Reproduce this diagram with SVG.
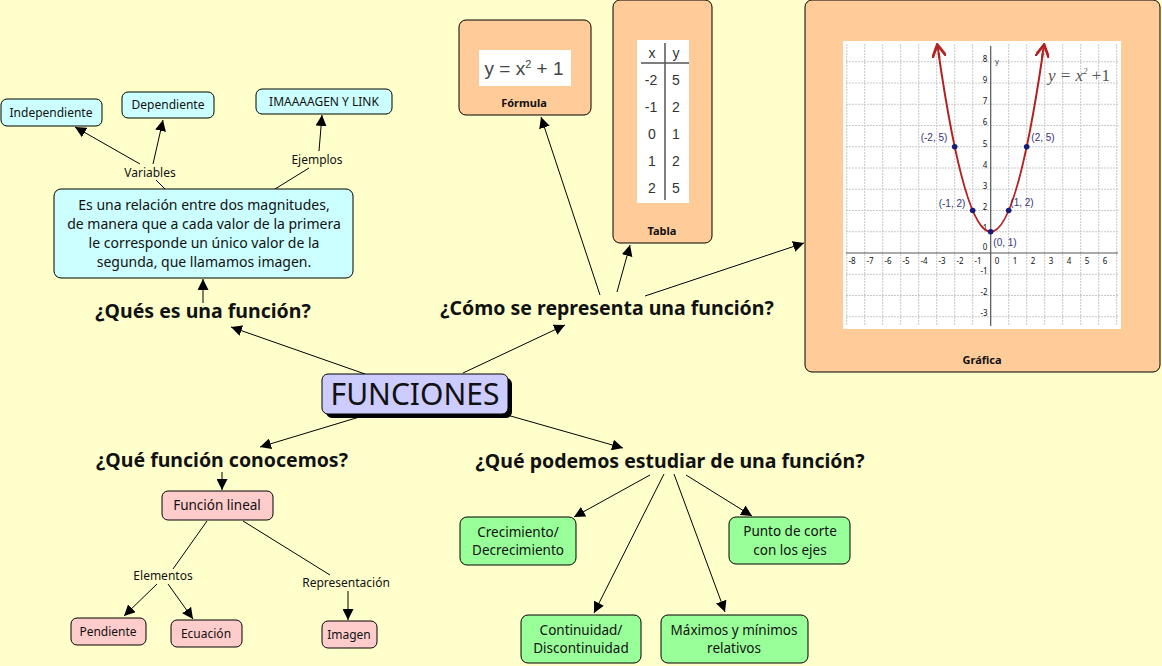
<svg xmlns="http://www.w3.org/2000/svg" width="1162" height="666" viewBox="0 0 1162 666">
<defs>
<marker id="ah" viewBox="0 0 10 10" refX="10" refY="5" markerWidth="11" markerHeight="11" markerUnits="userSpaceOnUse" orient="auto"><path d="M0,0 L10,5 L0,10 z" fill="#000"/></marker>
<marker id="rh" viewBox="0 0 10 10" refX="8" refY="5" markerWidth="14" markerHeight="14" markerUnits="userSpaceOnUse" orient="auto"><path d="M0,0 L9,5 L0,10" fill="none" stroke="#b22222" stroke-width="2"/></marker>
</defs>
<style>
text{font-family:"Noto Sans","Liberation Sans",sans-serif;fill:#111}
.n{stroke:#000;stroke-width:1}
.cy{fill:#ccffff}.or{fill:#ffcc99}.pk{fill:#ffcccc}.gr{fill:#99ff99}
.t{font-size:13.5px}
.d{font-size:14px}
.lb{font-size:12px}
.h{font-size:19.5px;font-weight:bold}
.c line,.c path{stroke:#000;stroke-width:1;fill:none}
.a{marker-end:url(#ah)}
.grid line{stroke:#c8c8c8;stroke-width:1;stroke-dasharray:2 1}
.ax{font-family:"Liberation Sans",sans-serif;font-size:8px;fill:#444}
.pt{font-family:"Liberation Sans",sans-serif;font-size:10px;fill:#33337a}
.tb{font-family:"Liberation Sans",sans-serif;font-size:14px;fill:#333}
</style>
<rect width="1162" height="666" fill="#ffffcc"/>

<g class="c" id="connectors">
<line x1="365" y1="374" x2="231" y2="327" class="a"/>
<line x1="463" y1="373" x2="565" y2="325" class="a"/>
<line x1="366" y1="415" x2="260" y2="447" class="a"/>
<line x1="500" y1="413" x2="623" y2="448" class="a"/>
<line x1="203" y1="303" x2="203" y2="279" class="a"/>
<line x1="165" y1="189" x2="156" y2="180"/>
<line x1="140" y1="164" x2="75" y2="127" class="a"/>
<line x1="153" y1="164" x2="163" y2="120" class="a"/>
<line x1="275" y1="189" x2="309" y2="168"/>
<line x1="319" y1="151" x2="322" y2="115" class="a"/>
<line x1="600" y1="295" x2="541" y2="117" class="a"/>
<line x1="617" y1="292" x2="630" y2="245" class="a"/>
<line x1="645" y1="296" x2="804" y2="243" class="a"/>
<line x1="222" y1="472" x2="222" y2="490" class="a"/>
<line x1="207" y1="521" x2="173" y2="569"/>
<line x1="157" y1="584" x2="124" y2="616" class="a"/>
<line x1="168" y1="584" x2="193" y2="619" class="a"/>
<line x1="243" y1="521" x2="330" y2="575"/>
<line x1="348" y1="591" x2="348" y2="620" class="a"/>
<line x1="650" y1="475" x2="574" y2="517" class="a"/>
<line x1="664" y1="474" x2="594" y2="613" class="a"/>
<line x1="674" y1="474" x2="725" y2="612" class="a"/>
<line x1="686" y1="475" x2="752" y2="516" class="a"/>
</g>

<g id="funciones">
<rect x="326" y="378" width="186" height="40" rx="6" fill="#000"/>
<rect x="322" y="374" width="186" height="40" rx="6" fill="#ccccff" class="n"/>
<text x="415" y="405" text-anchor="middle" style="font-size:30px">FUNCIONES</text>
</g>

<g id="q-que-es"><text x="203" y="318" text-anchor="middle" class="h">¿Qués es una función?</text></g>
<g id="q-como"><text x="607" y="315" text-anchor="middle" class="h">¿Cómo se representa una función?</text></g>
<g id="q-conocemos"><text x="222" y="467" text-anchor="middle" class="h">¿Qué función conocemos?</text></g>
<g id="q-estudiar"><text x="670" y="468" text-anchor="middle" class="h">¿Qué podemos estudiar de una función?</text></g>

<g id="definicion">
<rect x="54" y="189" width="299" height="89" rx="7" class="n cy"/>
<text x="204" y="210" text-anchor="middle" class="d">Es una relación entre dos magnitudes,</text>
<text x="204" y="229" text-anchor="middle" class="d">de manera que a cada valor de la primera</text>
<text x="204" y="248" text-anchor="middle" class="d">le corresponde un único valor de la</text>
<text x="204" y="267" text-anchor="middle" class="d">segunda, que llamamos imagen.</text>
</g>
<g id="lbl-variables"><text x="150" y="177" text-anchor="middle" class="lb">Variables</text></g>
<g id="lbl-ejemplos"><text x="317" y="164" text-anchor="middle" class="lb">Ejemplos</text></g>
<g id="independiente"><rect x="1" y="99" width="101" height="27" rx="6" class="n cy"/><text x="51" y="117" text-anchor="middle" class="lb">Independiente</text></g>
<g id="dependiente"><rect x="122" y="92" width="92" height="26" rx="6" class="n cy"/><text x="168" y="109" text-anchor="middle" class="lb">Dependiente</text></g>
<g id="imagen-link"><rect x="256" y="89" width="136" height="25" rx="6" class="n cy"/><text x="324" y="106" text-anchor="middle" class="lb">IMAAAAGEN Y LINK</text></g>

<g id="formula">
<rect x="459" y="20" width="132" height="95" rx="7" class="n or"/>
<rect x="479" y="50" width="92" height="36" fill="#fff"/>
<text x="524" y="75" text-anchor="middle" style="font-family:'Liberation Sans',sans-serif;font-size:19px;fill:#444">y = x<tspan dy="-7" style="font-size:11px">2</tspan><tspan dy="7"> + 1</tspan></text>
<text x="524" y="107" text-anchor="middle" style="font-size:11px;font-weight:bold">Fórmula</text>
</g>

<g id="tabla">
<rect x="613" y="0" width="99" height="243" rx="7" class="n or"/>
<rect x="637" y="40" width="52" height="163" fill="#fff"/>
<line x1="665" y1="43" x2="665" y2="200" stroke="#555" stroke-width="1.5"/>
<line x1="641" y1="63" x2="689" y2="63" stroke="#555" stroke-width="1.5"/>
<text x="652" y="58" text-anchor="middle" class="tb">x</text><text x="676" y="58" text-anchor="middle" class="tb">y</text>
<text x="651" y="85" text-anchor="middle" class="tb">-2</text><text x="676" y="85" text-anchor="middle" class="tb">5</text>
<text x="651" y="112" text-anchor="middle" class="tb">-1</text><text x="676" y="112" text-anchor="middle" class="tb">2</text>
<text x="652" y="139" text-anchor="middle" class="tb">0</text><text x="676" y="139" text-anchor="middle" class="tb">1</text>
<text x="652" y="166" text-anchor="middle" class="tb">1</text><text x="676" y="166" text-anchor="middle" class="tb">2</text>
<text x="652" y="193" text-anchor="middle" class="tb">2</text><text x="676" y="193" text-anchor="middle" class="tb">5</text>
<text x="662" y="235" text-anchor="middle" style="font-size:11px;font-weight:bold">Tabla</text>
</g>

<g id="grafica">
<rect x="805" y="0" width="355" height="372" rx="7" class="n or"/>
<rect x="843" y="41" width="278" height="288" fill="#fff"/>
<g class="grid">
<line x1="846.7" y1="44" x2="846.7" y2="326"/><line x1="864.7" y1="44" x2="864.7" y2="326"/><line x1="882.7" y1="44" x2="882.7" y2="326"/><line x1="900.7" y1="44" x2="900.7" y2="326"/><line x1="918.7" y1="44" x2="918.7" y2="326"/><line x1="936.7" y1="44" x2="936.7" y2="326"/><line x1="954.7" y1="44" x2="954.7" y2="326"/><line x1="972.7" y1="44" x2="972.7" y2="326"/><line x1="1008.7" y1="44" x2="1008.7" y2="326"/><line x1="1026.7" y1="44" x2="1026.7" y2="326"/><line x1="1044.7" y1="44" x2="1044.7" y2="326"/><line x1="1062.7" y1="44" x2="1062.7" y2="326"/><line x1="1080.7" y1="44" x2="1080.7" y2="326"/><line x1="1098.7" y1="44" x2="1098.7" y2="326"/><line x1="1116.7" y1="44" x2="1116.7" y2="326"/>
<line x1="846" y1="61.75" x2="1118" y2="61.75"/><line x1="846" y1="83" x2="1118" y2="83"/><line x1="846" y1="104.25" x2="1118" y2="104.25"/><line x1="846" y1="125.5" x2="1118" y2="125.5"/><line x1="846" y1="146.75" x2="1118" y2="146.75"/><line x1="846" y1="168" x2="1118" y2="168"/><line x1="846" y1="189.25" x2="1118" y2="189.25"/><line x1="846" y1="210.5" x2="1118" y2="210.5"/><line x1="846" y1="231.75" x2="1118" y2="231.75"/><line x1="846" y1="274.25" x2="1118" y2="274.25"/><line x1="846" y1="295.5" x2="1118" y2="295.5"/><line x1="846" y1="316.75" x2="1118" y2="316.75"/>
</g>
<line x1="846" y1="253" x2="1118" y2="253" stroke="#555" stroke-width="1.2"/>
<line x1="990.7" y1="46" x2="990.7" y2="326" stroke="#555" stroke-width="1.2"/>
<g class="ax" text-anchor="middle">
<text x="852" y="264">-8</text><text x="870" y="264">-7</text><text x="888" y="264">-6</text><text x="906" y="264">-5</text><text x="924" y="264">-4</text><text x="942" y="264">-3</text><text x="960" y="264">-2</text><text x="978" y="264">-1</text><text x="997" y="264">0</text><text x="1015" y="264">1</text><text x="1033" y="264">2</text><text x="1051" y="264">3</text><text x="1069" y="264">4</text><text x="1087" y="264">5</text><text x="1105" y="264">6</text>
<text x="985" y="62">8</text><text x="985" y="83">9</text><text x="985" y="104">7</text><text x="985" y="125">6</text><text x="985" y="147">5</text><text x="985" y="168">4</text><text x="985" y="189">3</text><text x="985" y="210">2</text><text x="985" y="231">1</text><text x="985" y="250">0</text><text x="984" y="274">-1</text><text x="984" y="295">-2</text><text x="984" y="316">-3</text>
</g>
<text x="995" y="64" class="ax">y</text>
<path d="M938.5,53 Q990.7,410.5 1042.9,53" fill="none" stroke="#b22222" stroke-width="2"/>
<line x1="939.5" y1="58" x2="937.5" y2="46" stroke="#b22222" stroke-width="2" marker-end="url(#rh)"/>
<line x1="1041.9" y1="58" x2="1043.9" y2="46" stroke="#b22222" stroke-width="2" marker-end="url(#rh)"/>
<g fill="#1a1a7a">
<circle cx="954.7" cy="146.75" r="2.8"/><circle cx="972.7" cy="210.5" r="2.8"/><circle cx="990.7" cy="231.75" r="2.8"/><circle cx="1008.7" cy="210.5" r="2.8"/><circle cx="1026.7" cy="146.75" r="2.8"/>
</g>
<text x="934" y="141" text-anchor="middle" class="pt">(-2, 5)</text>
<text x="1043" y="141" text-anchor="middle" class="pt">(2, 5)</text>
<text x="952" y="207" text-anchor="middle" class="pt">(-1, 2)</text>
<text x="1022" y="206" text-anchor="middle" class="pt">(1, 2)</text>
<text x="1005" y="246" text-anchor="middle" class="pt">(0, 1)</text>
<text x="1048" y="81" style="font-family:'Liberation Serif',serif;font-style:italic;font-size:17px;fill:#555">y = x<tspan dy="-7" style="font-size:9px">2</tspan><tspan dy="7" style="font-style:normal"> +1</tspan></text>
<text x="982" y="364" text-anchor="middle" style="font-size:11px;font-weight:bold">Gráfica</text>
</g>

<g id="funcion-lineal"><rect x="162" y="491" width="111" height="29" rx="6" class="n pk"/><text x="217" y="510" text-anchor="middle" class="t">Función lineal</text></g>
<g id="lbl-elementos"><text x="163" y="580" text-anchor="middle" class="lb">Elementos</text></g>
<g id="lbl-representacion"><text x="346" y="587" text-anchor="middle" class="lb">Representación</text></g>
<g id="pendiente"><rect x="71" y="618" width="75" height="27" rx="6" class="n pk"/><text x="108" y="636" text-anchor="middle" class="lb">Pendiente</text></g>
<g id="ecuacion"><rect x="171" y="620" width="71" height="27" rx="6" class="n pk"/><text x="206" y="638" text-anchor="middle" class="lb">Ecuación</text></g>
<g id="imagen"><rect x="322" y="621" width="55" height="27" rx="6" class="n pk"/><text x="349" y="639" text-anchor="middle" class="lb">Imagen</text></g>

<g id="crecimiento"><rect x="460" y="517" width="116" height="48" rx="7" class="n gr"/><text x="518" y="537" text-anchor="middle" class="t">Crecimiento/</text><text x="518" y="555" text-anchor="middle" class="t">Decrecimiento</text></g>
<g id="punto-corte"><rect x="729" y="517" width="121" height="47" rx="7" class="n gr"/><text x="790" y="536" text-anchor="middle" class="t">Punto de corte</text><text x="790" y="555" text-anchor="middle" class="t">con los ejes</text></g>
<g id="continuidad"><rect x="521" y="615" width="120" height="48" rx="7" class="n gr"/><text x="581" y="635" text-anchor="middle" class="t">Continuidad/</text><text x="581" y="653" text-anchor="middle" class="t">Discontinuidad</text></g>
<g id="maximos"><rect x="661" y="615" width="147" height="48" rx="7" class="n gr"/><text x="734" y="635" text-anchor="middle" class="t">Máximos y mínimos</text><text x="734" y="653" text-anchor="middle" class="t">relativos</text></g>
</svg>
